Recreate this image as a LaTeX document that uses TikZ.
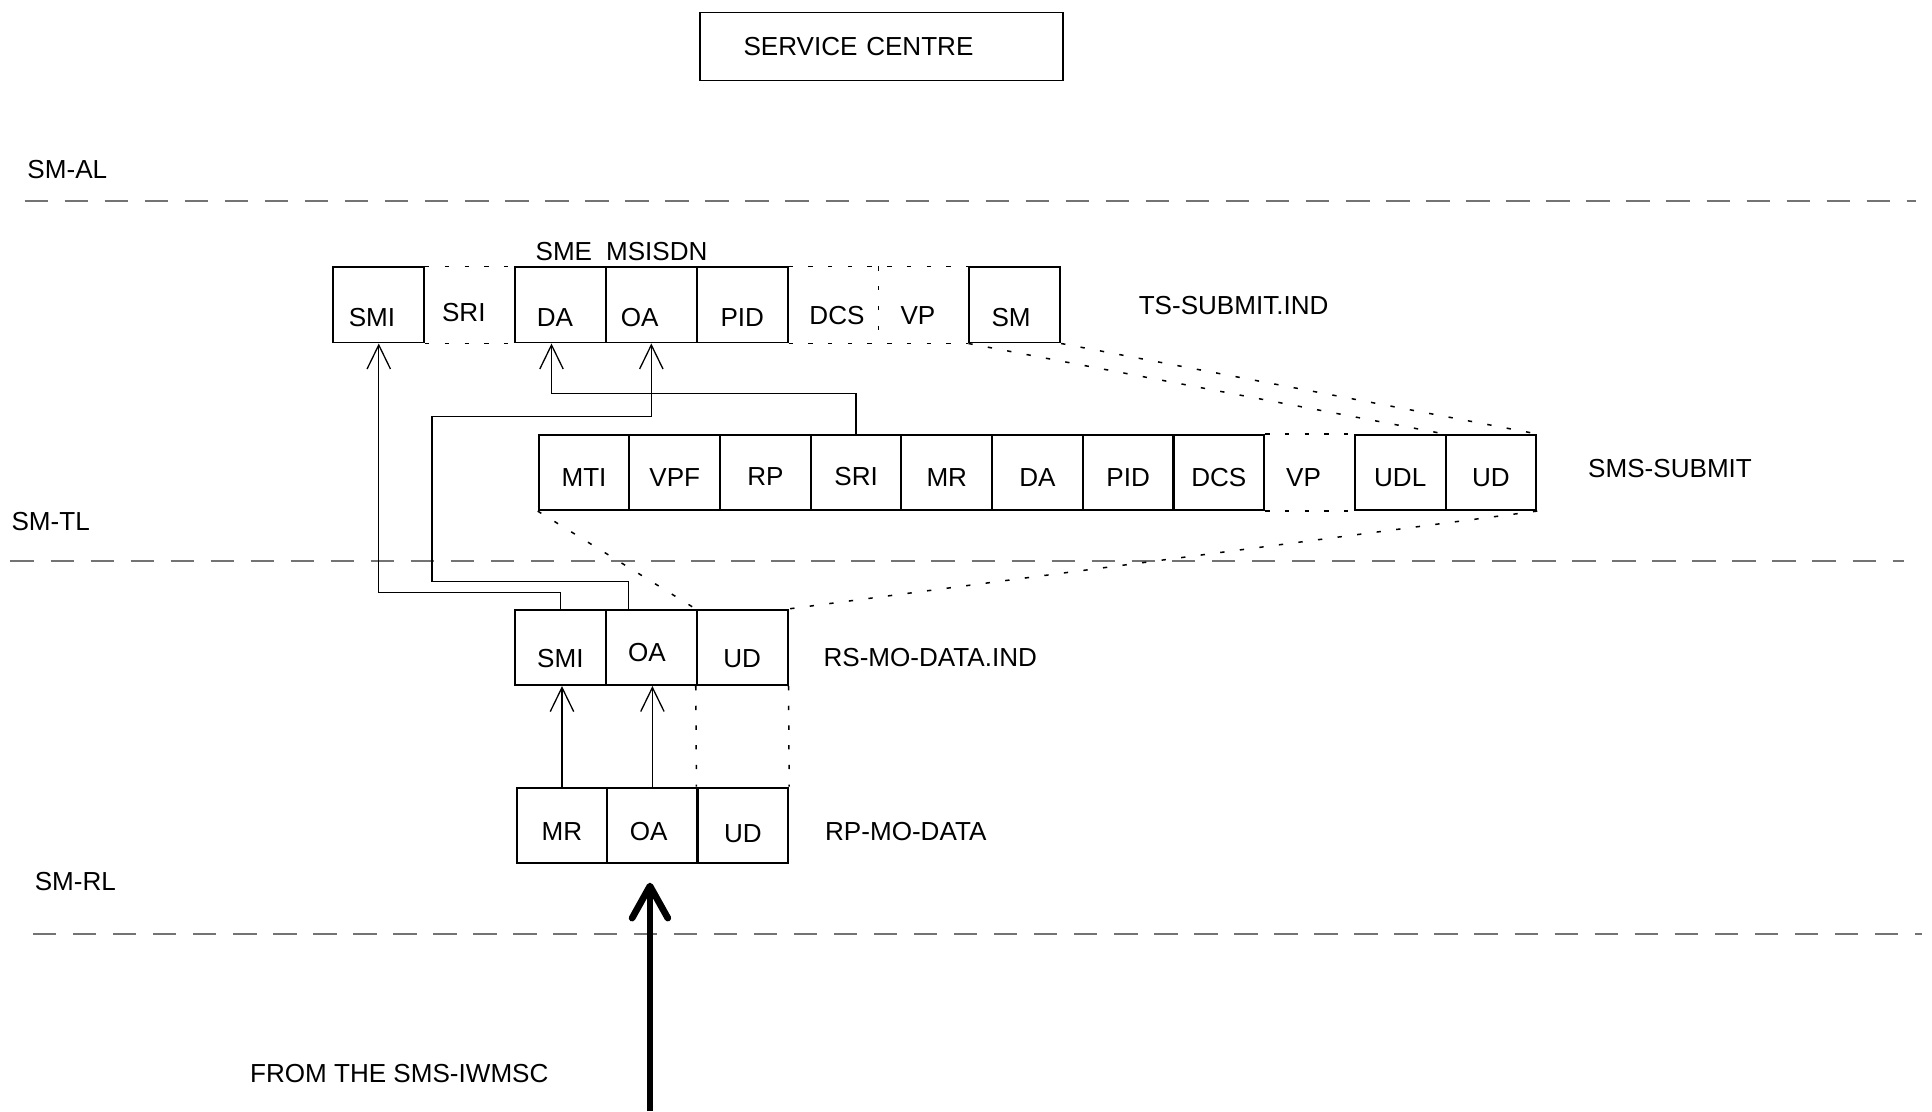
\documentclass[tikz,border=0pt]{standalone}
\usepackage{fontspec}
\setmainfont{Liberation Sans}
\usetikzlibrary{arrows.meta,calc}

\begin{document}
\begin{tikzpicture}[
	x=0.1mm, y=-0.1mm,
	font=\fontsize{6.02}{7.2}\selectfont,
	field/.style={ draw, line width=0.45pt, inner sep=0pt, minimum width=7.37mm, minimum height=6.1mm, text height=#1, text depth=0pt },
	field/.default=2.35mm,
	lbl/.style={ inner sep=0pt, text height=1.52mm, text depth=0pt },
	layer/.style={ black!55, line width=0.45pt, dash pattern=on 1.9mm off 1.35mm },
	dotline/.style={ line width=0.35pt, dash pattern=on 0.35mm off 1.25mm },
	link/.style={ line width=0.3pt, -{Straight Barb[length=1.95mm,width=1.9mm]} },
	bigarrow/.style={ line width=1.55pt, -{Straight Barb[round,length=2.6mm,width=2.9mm]} }
]
\useasboundingbox (0,0) rectangle (1568,901.7);

\node[draw, line width=0.35pt, inner xsep=3.53mm, inner ysep=0pt, text width=22.38mm, align=left, minimum height=5.55mm, text height=1.52mm, text depth=0pt] at (715.4,37.75) (sc) {SERVICE CENTRE};

\node[lbl, anchor=west] at (21.6,137) (smal) {SM-AL};
\node[lbl, anchor=west] at (8.7,422.7) (smtl) {SM-TL};
\node[lbl, anchor=west] at (27.5,715) (smrl) {SM-RL};
\draw[layer] (20,163) to (1555,163);
\draw[layer] (8.5,455) to (1545,455);
\draw[layer] (26.7,758) to (1560,758);

\node[field=3.42mm] at (307.4,247.5) (tsSMI) {\hspace*{-1.1mm}SMI};
\node[field=3.42mm] at (454.9,247.5) (tsDA) {\hspace*{-0.9mm}DA};
\node[field=3.42mm] at (528.6,247.5) (tsOA) {\hspace*{-1.9mm}OA};
\node[field=3.42mm] at (602.4,247.5) (tsPID) {PID};
\node[field=3.42mm] at (823.6,247.5) (tsSM) {\hspace*{-0.6mm}SM};
\node[lbl] at (376.4,253.6) (tsSRI) {SRI};
\node[lbl] at (679.3,256) (tsDCS) {DCS};
\node[lbl] at (745,256) (tsVP) {VP};
\node[lbl, anchor=west] at (434,204) (lblSME) {SME};
\node[lbl, anchor=west] at (491.2,204) (lblMSISDN) {MSISDN};
\node[lbl, anchor=west] at (923.5,247.5) (lblTS) {TS-SUBMIT.IND};

\node[field] at (474,383.5) (smsMTI) {MTI};
\node[field] at (547.6,383.5) (smsVPF) {VPF};
\node[field=2.05mm] at (621.2,383.5) (smsRP) {RP};
\node[field=2.05mm] at (694.8,383.5) (smsSRI) {SRI};
\node[field] at (768.4,383.5) (smsMR) {MR};
\node[field] at (842,383.5) (smsDA) {DA};
\node[field] at (915.6,383.5) (smsPID) {PID};
\node[field] at (989.2,383.5) (smsDCS) {DCS};
\node[field] at (1136.4,383.5) (smsUDL) {UDL};
\node[field] at (1210,383.5) (smsUD) {UD};
\node[lbl] at (1058,387.5) (smsVP) {VP};
\node[lbl, anchor=west] at (1288.3,380) (lblSMS) {SMS-SUBMIT};

\node[field=3.3mm] at (454.8,525.5) (rsSMI) {SMI};
\node[field=2.28mm] at (528.5,525.5) (rsOA) {\hspace*{-0.7mm}OA};
\node[field=3.3mm] at (602.3,525.5) (rsUD) {UD};
\node[lbl, anchor=west] at (667.7,533.6) (lblRS) {RS-MO-DATA.IND};

\node[field=2.46mm] at (456.1,669.8) (rpMR) {MR};
\node[field=2.46mm] at (529.5,669.8) (rpOA) {\hspace*{-0.6mm}OA};
\node[field=2.86mm] at (602.9,669.8) (rpUD) {UD};
\node[lbl, anchor=west] at (669,674.3) (lblRP) {RP-MO-DATA};
\node[lbl, anchor=west] at (202.3,871.3) (lblIWMSC) {FROM THE SMS-IWMSC};

\coordinate (oaBend) at (350.7,338.2);
\coordinate (iwmsc) at (527.5,901.7);
\coordinate (iwmscTip) at (527.5,716.4);

\draw[dotline] (tsSMI.north east) to (tsDA.north west);
\draw[dotline] (tsSMI.south east) to (tsDA.south west);
\draw[dotline] (tsPID.north east) to (tsSM.north west);
\draw[dotline] (tsPID.south east) to (tsSM.south west);
\draw[dotline] ($(tsPID.north east)!0.5!(tsSM.north west)$) to ($(tsPID.south east)!0.5!(tsSM.south west)$);
\draw[dotline] (tsSM.south west) to (smsUD.north west);
\draw[dotline] (tsSM.south east) to (smsUD.north east);
\draw[dotline] (smsDCS.north east) to (smsUDL.north west);
\draw[dotline] (smsDCS.south east) to (smsUDL.south west);
\draw[dotline] (smsMTI.south west) to (rsUD.north west);
\draw[dotline] (smsUD.south east) to (rsUD.north east);
\draw[dotline] (rsUD.south west) to (rpUD.north west);
\draw[dotline] (rsUD.south east) to (rpUD.north east);

\draw[link] (smsSRI.north) -- ++(0,-33) -| ([xshift=-0.73mm]tsDA.south);
\draw[link] (rsSMI.north) -- ++(0,-13.3) -| (tsSMI.south);
\draw[link] ([xshift=-1.85mm]rsOA.north) -- ++(0,-22.4) -| (oaBend) -| (tsOA.south);
\draw[link] (rpMR.north) to (rpMR.north |- rsSMI.south);
\draw[link] (rpOA.north) to (rpOA.north |- rsOA.south);
\draw[bigarrow] (iwmsc) to (iwmscTip);

\end{tikzpicture}
\end{document}
